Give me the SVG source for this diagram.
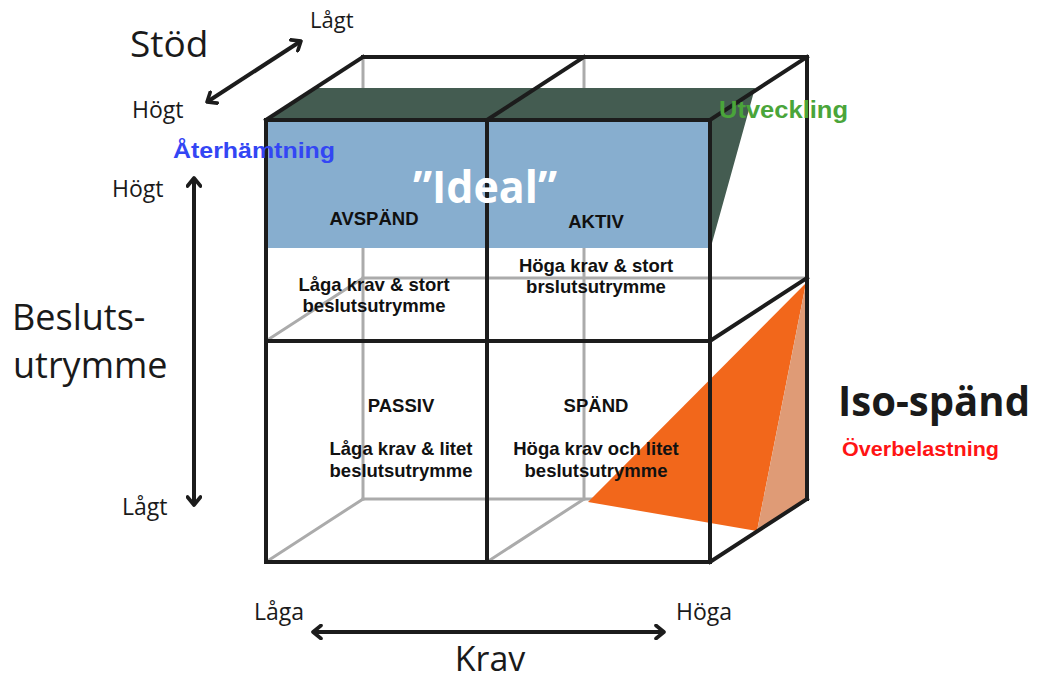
<svg xmlns="http://www.w3.org/2000/svg" width="1042" height="681" viewBox="0 0 1042 681">
  <style>
    .back { stroke: #ababab; stroke-width: 3; fill: none; stroke-linecap: square; }
    .edge { stroke: #1c1c1c; stroke-width: 4; fill: none; stroke-linecap: square; stroke-linejoin: miter; }
    .axis { stroke: #1c1c1c; stroke-width: 4; fill: none; }
    .lbl { font-family: "Open Sans", "Noto Sans", sans-serif; fill: #1a1a1a; }
    .cell { font-family: "Liberation Sans", Arial, sans-serif; font-weight: bold; font-size: 18.5px; fill: #111; text-anchor: middle; }
    .tag { font-family: "Liberation Sans", Arial, sans-serif; font-weight: bold; }
  </style>
  <defs>
    <marker id="chev" viewBox="0 0 12 16" refX="10" refY="8" markerWidth="12" markerHeight="16" markerUnits="userSpaceOnUse" orient="auto-start-reverse">
      <polyline points="2,1.5 10,8 2,14.5" fill="none" stroke="#1c1c1c" stroke-width="3.6" stroke-linecap="round" stroke-linejoin="round"/>
    </marker>
  </defs>
  <rect width="1042" height="681" fill="#ffffff"/>

  <!-- hidden rear edges of the cube -->
  <g id="rear-edges">
    <line class="back" x1="363" y1="57" x2="363" y2="499"/>
    <line class="back" x1="584" y1="57" x2="584" y2="499"/>
    <line class="back" x1="363" y1="278" x2="807" y2="278"/>
    <line class="back" x1="363" y1="499" x2="807" y2="499"/>
    <line class="back" x1="266" y1="341" x2="363" y2="278"/>
    <line class="back" x1="266" y1="562" x2="363" y2="499"/>
    <line class="back" x1="487" y1="562" x2="584" y2="499"/>
  </g>

  <!-- "Ideal" slab: dark top and blue front -->
  <g id="ideal">
    <polygon points="266,120 313,88 755,88 712,243 710,243 710,120" fill="#445c51"/>
    <rect x="266" y="120" width="444" height="128" fill="#87aecf"/>
  </g>

  <!-- Iso-spänd wedge -->
  <g id="iso-wedge">
    <polygon points="806,283 588,502 757,531" fill="#f2671b"/>
    <polygon points="806,283 757,531 807,499" fill="#df9b76"/>
  </g>

  <!-- visible cube edges -->
  <g id="cube">
    <rect class="edge" x="266" y="120" width="444" height="442"/>
    <line class="edge" x1="487" y1="120" x2="487" y2="562"/>
    <line class="edge" x1="266" y1="341" x2="710" y2="341"/>
    <line class="edge" x1="266" y1="120" x2="363" y2="57"/>
    <line class="edge" x1="487" y1="120" x2="584" y2="57"/>
    <line class="edge" x1="710" y1="120" x2="807" y2="57"/>
    <line class="edge" x1="363" y1="57" x2="807" y2="57"/>
    <line class="edge" x1="807" y1="57" x2="807" y2="499"/>
    <line class="edge" x1="710" y1="341" x2="807" y2="278"/>
    <line class="edge" x1="710" y1="562" x2="807" y2="499"/>
  </g>

  <!-- axis arrows -->
  <g id="connectors">
    <line class="axis" x1="207" y1="102" x2="301" y2="41" marker-start="url(#chev)" marker-end="url(#chev)"/>
    <line class="axis" x1="194" y1="178" x2="194" y2="505" marker-start="url(#chev)" marker-end="url(#chev)"/>
    <line class="axis" x1="313" y1="632" x2="664" y2="632" marker-start="url(#chev)" marker-end="url(#chev)"/>
  </g>

  <!-- axis labels -->
  <g id="axis-stod">
    <text class="lbl" x="130" y="57" font-size="37">Stöd</text>
    <text class="lbl" x="310" y="28" font-size="22">Lågt</text>
    <text class="lbl" x="132" y="118" font-size="23">Högt</text>
  </g>
  <g id="axis-beslut">
    <text class="lbl" x="112" y="197" font-size="23">Högt</text>
    <text class="lbl" x="12" y="330" font-size="36">Besluts-</text>
    <text class="lbl" x="13" y="378" font-size="36">utrymme</text>
    <text class="lbl" x="122" y="515" font-size="23">Lågt</text>
  </g>
  <g id="axis-krav">
    <text class="lbl" x="254" y="620" font-size="23">Låga</text>
    <text class="lbl" x="676" y="620" font-size="23">Höga</text>
    <text class="lbl" x="490" y="671" font-size="34" text-anchor="middle">Krav</text>
  </g>

  <!-- quadrant nodes -->
  <g id="node-avspand">
    <text class="cell" x="374" y="225">AVSPÄND</text>
    <text class="cell" x="374" y="291">Låga krav &amp; stort</text>
    <text class="cell" x="374" y="312">beslutsutrymme</text>
  </g>
  <g id="node-aktiv">
    <text class="cell" x="596" y="228">AKTIV</text>
    <text class="cell" x="596" y="272">Höga krav &amp; stort</text>
    <text class="cell" x="596" y="293">brslutsutrymme</text>
  </g>
  <g id="node-passiv">
    <text class="cell" x="401" y="412">PASSIV</text>
    <text class="cell" x="401" y="455">Låga krav &amp; litet</text>
    <text class="cell" x="401" y="477">beslutsutrymme</text>
  </g>
  <g id="node-spand">
    <text class="cell" x="596" y="412">SPÄND</text>
    <text class="cell" x="596" y="455">Höga krav och litet</text>
    <text class="cell" x="596" y="477">beslutsutrymme</text>
  </g>

  <!-- region tags -->
  <g id="node-ideal">
    <text x="485" y="203" font-family="'Open Sans', 'Noto Sans', sans-serif" font-weight="bold" font-size="45" fill="#ffffff" text-anchor="middle" textLength="144" lengthAdjust="spacingAndGlyphs">”Ideal”</text>
  </g>
  <g id="node-aterhamtning">
    <text class="tag" x="173" y="158" font-size="22" fill="#3346f4" textLength="162" lengthAdjust="spacingAndGlyphs">Återhämtning</text>
  </g>
  <g id="node-utveckling">
    <text class="tag" x="719" y="118" font-size="23" fill="#4aa53a" textLength="129" lengthAdjust="spacingAndGlyphs">Utveckling</text>
  </g>
  <g id="node-isospand">
    <text x="838" y="416" font-family="'Open Sans', 'Noto Sans', sans-serif" font-weight="bold" font-size="41" fill="#1a1a1a" textLength="192" lengthAdjust="spacingAndGlyphs">Iso-spänd</text>
    <text class="tag" x="842" y="456" font-size="19.5" fill="#ff1414" textLength="157" lengthAdjust="spacingAndGlyphs">Överbelastning</text>
  </g>
</svg>
